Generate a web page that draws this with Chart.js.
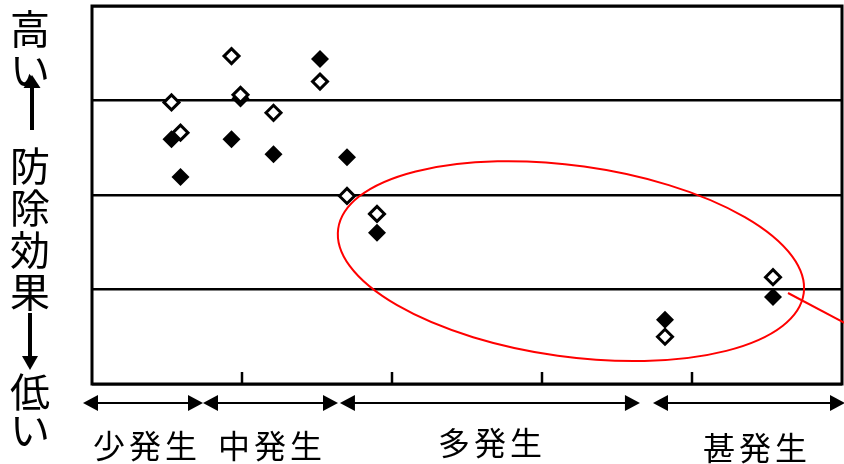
<!DOCTYPE html>
<html lang="ja">
<head>
<meta charset="UTF-8" />
<title>防除効果</title>
<script src="https://cdn.jsdelivr.net/npm/chart.js"></script>
<style>
  * { margin: 0; padding: 0; box-sizing: border-box; }
  body { background: #fff; width: 844px; height: 464px; overflow: hidden; }
  #wrap { position: relative; width: 844px; height: 464px; }
</style>
</head>
<body>
<div id="wrap"><canvas id="chart" width="844" height="464"></canvas></div>
<script>
// x: position along the outbreak scale (0-5), y: control effect (0 low - 4 high)
const openX   = [0.53, 0.59, 0.93, 0.99, 1.21, 1.52, 1.70, 1.90, 3.82, 4.54];
const openY   = [2.98, 2.66, 3.47, 3.06, 2.87, 3.20, 1.99, 1.80, 0.50, 1.13];
const filledX = [0.53, 0.59, 0.93, 0.99, 1.21, 1.52, 1.70, 1.90, 3.82, 4.54];
const filledY = [2.59, 2.19, 2.59, 3.02, 2.43, 3.44, 2.40, 1.60, 0.68, 0.92];

const groupLabels = ['少発生', '中発生', '多発生', '甚発生'];
const groupFrom   = [-0.06, 0.74, 1.653, 3.74];
const groupTo     = [0.74, 1.64, 3.653, 5.02];
const labelX      = [145, 270, 490, 755];
const labelY      = [446, 446, 443, 448];

const yLabelTop = ['高', 'い'];
const yLabelMid = ['防', '除', '効', '果'];
const yLabelLow = ['低', 'い'];

const toPts = (xs, ys) => xs.map((x, i) => ({ x: x, y: ys[i] }));

function arrowHead(ctx, x, y, dir, len, half) {
  ctx.beginPath();
  ctx.moveTo(x, y);
  ctx.lineTo(x - dir * len, y - half);
  ctx.lineTo(x - dir * len, y + half);
  ctx.closePath();
  ctx.fill();
}

const decor = {
  id: 'decor',
  afterDraw(chart) {
    const ctx = chart.ctx;
    const a = chart.chartArea;
    const xs = chart.scales.x, ys = chart.scales.y;
    ctx.save();

    // frame
    ctx.strokeStyle = '#000';
    ctx.lineWidth = 3;
    ctx.strokeRect(a.left, a.top, a.right - a.left, a.bottom - a.top);

    // inward ticks
    ctx.lineWidth = 2.5;
    [1, 2, 3, 4].forEach(v => {
      const px = xs.getPixelForValue(v);
      ctx.beginPath();
      ctx.moveTo(px, a.bottom);
      ctx.lineTo(px, a.bottom - 12);
      ctx.stroke();
    });

    // red ellipse + leader line
    const cx = xs.getPixelForValue(3.193), cy = ys.getPixelForValue(1.30);
    ctx.strokeStyle = '#ff0000';
    ctx.lineWidth = 2;
    ctx.beginPath();
    ctx.ellipse(cx, cy, 235, 95.5, 7.9 * Math.PI / 180, 0, Math.PI * 2);
    ctx.stroke();
    ctx.beginPath();
    ctx.moveTo(xs.getPixelForValue(4.64), ys.getPixelForValue(0.963));
    ctx.lineTo(xs.getPixelForValue(5.02), ys.getPixelForValue(0.645));
    ctx.stroke();

    // group arrows under the axis
    ctx.strokeStyle = '#000';
    ctx.fillStyle = '#000';
    ctx.lineWidth = 2;
    const ay = 403;
    groupLabels.forEach((lab, i) => {
      const x1 = xs.getPixelForValue(groupFrom[i]);
      const x2 = xs.getPixelForValue(groupTo[i]);
      ctx.beginPath();
      ctx.moveTo(x1 + 10, ay);
      ctx.lineTo(x2 - 10, ay);
      ctx.stroke();
      arrowHead(ctx, x1, ay, -1, 15, 8);
      arrowHead(ctx, x2, ay, 1, 15, 8);

      ctx.font = '32px "Noto Sans CJK JP"';
      ctx.textAlign = 'center';
      ctx.textBaseline = 'middle';
      [...lab].forEach((ch, k) => {
        ctx.fillText(ch, labelX[i] + (k - 1) * 36, labelY[i]);
      });
    });

    // vertical y label
    ctx.font = '40px "Noto Sans CJK JP"';
    ctx.textAlign = 'center';
    ctx.textBaseline = 'middle';
    const lx = 30;
    yLabelTop.forEach((ch, k) => ctx.fillText(ch, lx, 29 + k * 41));
    yLabelMid.forEach((ch, k) => ctx.fillText(ch, lx, 166 + k * 42));
    yLabelLow.forEach((ch, k) => ctx.fillText(ch, lx, 392 + k * 38));

    // up arrow
    ctx.lineWidth = 4;
    ctx.beginPath();
    ctx.moveTo(32, 86);
    ctx.lineTo(32, 130);
    ctx.stroke();
    ctx.beginPath();
    ctx.moveTo(32, 75); ctx.lineTo(23.5, 88); ctx.lineTo(40.5, 88); ctx.closePath();
    ctx.fill();
    // down arrow
    ctx.beginPath();
    ctx.moveTo(30, 313);
    ctx.lineTo(30, 358);
    ctx.stroke();
    ctx.beginPath();
    ctx.moveTo(30, 370); ctx.lineTo(22, 356); ctx.lineTo(38, 356); ctx.closePath();
    ctx.fill();

    ctx.restore();
  }
};

const chart = new Chart(document.getElementById('chart'), {
  type: 'scatter',
  data: {
    datasets: [
      {
        label: 'open',
        data: toPts(openX, openY),
        pointStyle: 'rectRot',
        pointRadius: 7.5,
        backgroundColor: '#fff',
        borderColor: '#000',
        borderWidth: 3
      },
      {
        label: 'filled',
        data: toPts(filledX, filledY),
        pointStyle: 'rectRot',
        pointRadius: 9,
        backgroundColor: '#000',
        borderColor: '#000',
        borderWidth: 0
      }
    ]
  },
  options: {
    responsive: false,
    animation: false,
    events: [],
    layout: { autoPadding: false, padding: { left: 92, right: 2, top: 6, bottom: 80 } },
    plugins: { legend: { display: false }, tooltip: { enabled: false } },
    scales: {
      x: {
        type: 'linear', min: 0, max: 5,
        grid: { display: false, drawTicks: false },
        border: { display: false },
        ticks: { display: false }
      },
      y: {
        type: 'linear', min: 0, max: 4,
        grid: { color: '#000', lineWidth: 2.5, drawTicks: false },
        border: { display: false },
        ticks: { display: false, stepSize: 1 }
      }
    }
  },
  plugins: [decor]
});
</script>
</body>
</html>
